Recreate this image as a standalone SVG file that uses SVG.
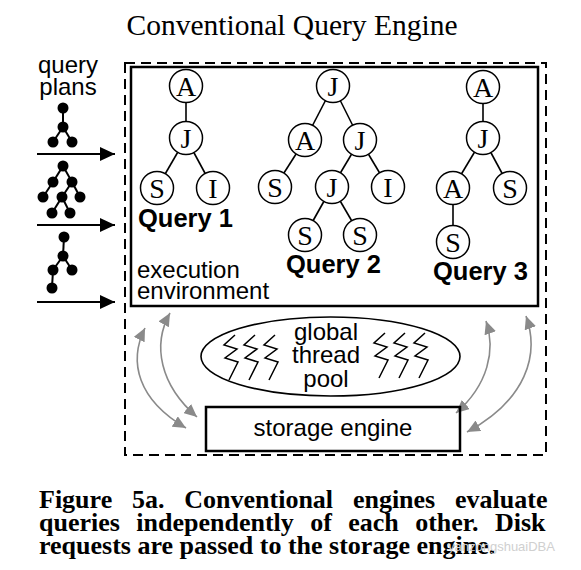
<svg xmlns="http://www.w3.org/2000/svg" xmlns:xlink="http://www.w3.org/1999/xlink" width="581" height="570" viewBox="0 0 581 570">
<style>
.dash{fill:none;stroke:#000;stroke-width:2;stroke-dasharray:10 6}
.box{fill:none;stroke:#000;stroke-width:2.5}
.edge{stroke:#000;stroke-width:1.6}
.node circle{fill:#fff;stroke:#000;stroke-width:1.5}
.node text{font-family:"Liberation Serif","Times New Roman",serif;font-size:28px;text-anchor:middle}
.sans{font-family:"Liberation Sans",Arial,sans-serif;font-size:24px}
.ql{font-family:"Liberation Sans",Arial,sans-serif;font-size:25.5px;font-weight:bold}
.gray{fill:none;stroke:#8a8a8a;stroke-width:1.6}
.icon line{stroke:#000;stroke-width:2}
.icon circle{fill:#000}
.zig{fill:none;stroke:#000;stroke-width:1.5}
.inarrow{stroke:#000;stroke-width:2;fill:none}
.cap{font-family:"Liberation Serif","Times New Roman",serif;font-weight:bold;font-size:26px}
</style>
<defs>
<marker id="gh" markerUnits="userSpaceOnUse" markerWidth="14" markerHeight="12" refX="13" refY="6" orient="auto-start-reverse" viewBox="0 0 14 12"><path d="M0,0 L13,6 L0,12 z" fill="#8a8a8a"/></marker>
<marker id="bh" markerUnits="userSpaceOnUse" markerWidth="16" markerHeight="14" refX="15" refY="7" orient="auto" viewBox="0 0 16 14"><path d="M0,0 L15,7 L0,14 z" fill="#000"/></marker>
<path id="zz" d="M0,0 L-11,10 L2,14 L-10,23 L3,27 L-6,45"/>
</defs>
<rect width="581" height="570" fill="#fff"/>

<text id="title" x="292" y="35" font-family="Liberation Serif, Times New Roman, serif" font-size="29.5" text-anchor="middle">Conventional Query Engine</text>

<g id="engine-frame"><rect class="dash" x="125" y="63" width="421" height="392"/></g>

<g id="exec-env">
<rect class="box" x="131" y="67" width="407" height="239"/>
<text class="sans" x="137" y="278" font-size="25">execution</text>
<text class="sans" x="137" y="299" font-size="25">environment</text>
</g>

<g id="query-plans">
<text class="sans" x="68" y="73" text-anchor="middle" font-size="23">query</text>
<text class="sans" x="68" y="95" text-anchor="middle" font-size="23">plans</text>
<g class="icon" id="plan1">
<line x1="63" y1="108" x2="63" y2="127"/><line x1="63" y1="127" x2="53" y2="142"/><line x1="63" y1="127" x2="72" y2="142"/>
<circle cx="63" cy="108" r="5.5"/><circle cx="63" cy="127" r="5.5"/><circle cx="53" cy="142" r="5.5"/><circle cx="72" cy="142" r="5.5"/>
</g>
<g class="icon" id="plan2">
<line x1="63" y1="166" x2="53" y2="182"/><line x1="63" y1="166" x2="72" y2="182"/><line x1="53" y1="182" x2="43" y2="197"/><line x1="72" y1="182" x2="62" y2="197"/><line x1="72" y1="182" x2="80" y2="197"/><line x1="62" y1="197" x2="52" y2="213"/><line x1="62" y1="197" x2="70" y2="213"/>
<circle cx="63" cy="166" r="5.5"/><circle cx="53" cy="182" r="5.5"/><circle cx="72" cy="182" r="5.5"/><circle cx="43" cy="197" r="5.5"/><circle cx="62" cy="197" r="5.5"/><circle cx="80" cy="197" r="5.5"/><circle cx="52" cy="213" r="5.5"/><circle cx="70" cy="213" r="5.5"/>
</g>
<g class="icon" id="plan3">
<line x1="64" y1="237" x2="63" y2="256"/><line x1="63" y1="256" x2="53" y2="270"/><line x1="63" y1="256" x2="72" y2="270"/><line x1="53" y1="270" x2="52" y2="288"/>
<circle cx="64" cy="237" r="5.5"/><circle cx="63" cy="256" r="5.5"/><circle cx="53" cy="270" r="5.5"/><circle cx="72" cy="270" r="5.5"/><circle cx="52" cy="288" r="5.5"/>
</g>
</g>

<g id="connectors">
<line class="inarrow" x1="37" y1="154" x2="115" y2="154" marker-end="url(#bh)"/>
<line class="inarrow" x1="37" y1="225" x2="115" y2="225" marker-end="url(#bh)"/>
<line class="inarrow" x1="37" y1="302" x2="115" y2="302" marker-end="url(#bh)"/>
<path class="gray" d="M145,328 C128,362 138,400 186,428" marker-start="url(#gh)" marker-end="url(#gh)"/>
<path class="gray" d="M170,313 C152,345 160,385 197,417" marker-start="url(#gh)" marker-end="url(#gh)"/>
<path class="gray" d="M486,321 C496,350 488,385 456,413" marker-start="url(#gh)" marker-end="url(#gh)"/>
<path class="gray" d="M526,316 C540,355 526,400 467,432" marker-start="url(#gh)" marker-end="url(#gh)"/>
</g>

<g id="query1">
<line class="edge" x1="186" y1="86" x2="186" y2="138"/><line class="edge" x1="186" y1="138" x2="157" y2="188"/><line class="edge" x1="186" y1="138" x2="213" y2="188"/>
<g class="node"><circle cx="186" cy="86" r="16.5"/><text x="186" y="95.5">A</text></g>
<g class="node"><circle cx="186" cy="138" r="16.5"/><text x="186" y="147.5">J</text></g>
<g class="node"><circle cx="157" cy="188" r="16.5"/><text x="157" y="197.5">S</text></g>
<g class="node"><circle cx="213" cy="188" r="16.5"/><text x="213" y="197.5">I</text></g>
<text class="ql" x="138" y="227">Query 1</text>
</g>

<g id="query2">
<line class="edge" x1="333" y1="86" x2="305" y2="140"/><line class="edge" x1="333" y1="86" x2="360" y2="140"/><line class="edge" x1="305" y1="140" x2="275" y2="187"/><line class="edge" x1="360" y1="140" x2="332" y2="187"/><line class="edge" x1="360" y1="140" x2="388" y2="187"/><line class="edge" x1="332" y1="187" x2="305" y2="235"/><line class="edge" x1="332" y1="187" x2="360" y2="235"/>
<g class="node"><circle cx="333" cy="86" r="16.5"/><text x="333" y="95.5">J</text></g>
<g class="node"><circle cx="305" cy="140" r="16.5"/><text x="305" y="149.5">A</text></g>
<g class="node"><circle cx="360" cy="140" r="16.5"/><text x="360" y="149.5">J</text></g>
<g class="node"><circle cx="275" cy="187" r="16.5"/><text x="275" y="196.5">S</text></g>
<g class="node"><circle cx="332" cy="187" r="16.5"/><text x="332" y="196.5">J</text></g>
<g class="node"><circle cx="388" cy="187" r="16.5"/><text x="388" y="196.5">I</text></g>
<g class="node"><circle cx="305" cy="235" r="16.5"/><text x="305" y="244.5">S</text></g>
<g class="node"><circle cx="360" cy="235" r="16.5"/><text x="360" y="244.5">S</text></g>
<text class="ql" x="286" y="273">Query 2</text>
</g>

<g id="query3">
<line class="edge" x1="483" y1="87" x2="483" y2="138"/><line class="edge" x1="483" y1="138" x2="453" y2="188"/><line class="edge" x1="483" y1="138" x2="510" y2="188"/><line class="edge" x1="453" y1="188" x2="453" y2="242"/>
<g class="node"><circle cx="483" cy="87" r="16.5"/><text x="483" y="96.5">A</text></g>
<g class="node"><circle cx="483" cy="138" r="16.5"/><text x="483" y="147.5">J</text></g>
<g class="node"><circle cx="453" cy="188" r="16.5"/><text x="453" y="197.5">A</text></g>
<g class="node"><circle cx="510" cy="188" r="16.5"/><text x="510" y="197.5">S</text></g>
<g class="node"><circle cx="453" cy="242" r="16.5"/><text x="453" y="251.5">S</text></g>
<text class="ql" x="433" y="280">Query 3</text>
</g>

<g id="thread-pool">
<ellipse cx="330.5" cy="356.5" rx="129.5" ry="39.5" fill="#fff" stroke="#000" stroke-width="1.6"/>
<use href="#zz" class="zig" x="235" y="335"/>
<use href="#zz" class="zig" x="255" y="335"/>
<use href="#zz" class="zig" x="275" y="335"/>
<use href="#zz" class="zig" x="385" y="333"/>
<use href="#zz" class="zig" x="405" y="333"/>
<use href="#zz" class="zig" x="425" y="333"/>
<text class="sans" x="326" y="340" text-anchor="middle">global</text>
<text class="sans" x="326" y="363" text-anchor="middle">thread</text>
<text class="sans" x="326" y="387" text-anchor="middle">pool</text>
</g>

<g id="storage-engine">
<rect class="box" x="206" y="407" width="254" height="44"/>
<text class="sans" x="333" y="436" text-anchor="middle" font-size="25">storage engine</text>
</g>

<g id="caption">
<text class="cap" x="39" y="508" word-spacing="13.3">Figure 5a. Conventional engines evaluate</text>
<text class="cap" x="39" y="531" word-spacing="9.9">queries independently of each other. Disk</text>
<text class="cap" x="39" y="554">requests are passed to the storage engine.</text>
<text x="448" y="551" font-family="Liberation Sans, Arial, sans-serif" font-size="13" fill="#d0d0d0">yanzongshuaiDBA</text>
</g>
</svg>
